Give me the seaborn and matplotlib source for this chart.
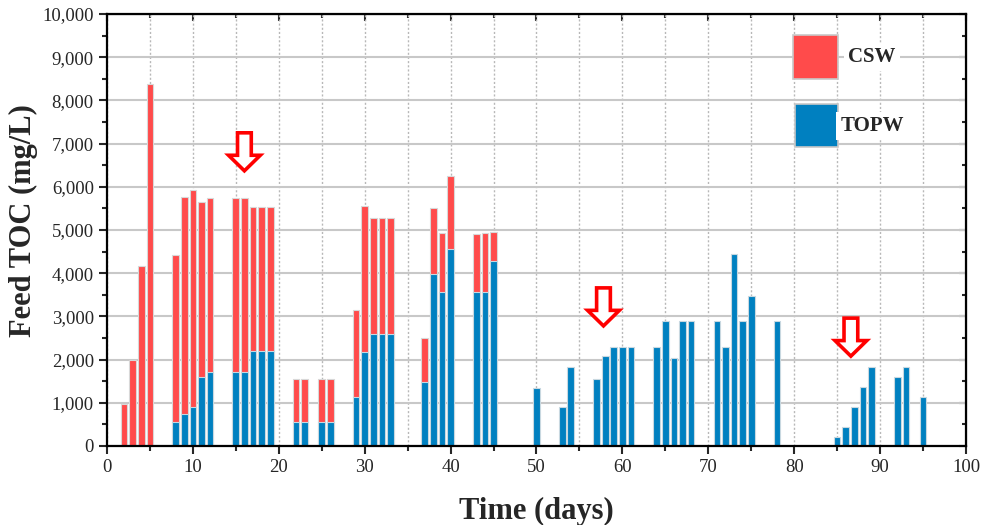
import numpy as np
import pandas as pd
import matplotlib
matplotlib.use('Agg')
import matplotlib.pyplot as plt
from matplotlib.patches import Rectangle, FancyArrow
from matplotlib.ticker import MultipleLocator, FuncFormatter
import seaborn as sns

sns.set_style("white")
plt.rcParams['font.family'] = ['Liberation Serif', 'DejaVu Serif']

# Feed TOC (mg/L) per day
days = [2, 3, 4, 5, 8, 9, 10, 11, 12, 15, 16, 17, 18, 19, 22, 23, 25, 26,
        29, 30, 31, 32, 33, 37, 38, 39, 40, 43, 44, 45, 50, 53, 54, 57, 58,
        59, 60, 61, 64, 65, 66, 67, 68, 71, 72, 73, 74, 75, 78, 85, 86, 87,
        88, 89, 92, 93, 95]
topw = [0, 0, 0, 0, 560, 730, 910, 1600, 1720, 1720, 1720, 2190, 2190, 2190,
        555, 555, 555, 555, 1130, 2180, 2590, 2590, 2590, 1485, 3990, 3575,
        4555, 3555, 3575, 4275, 1345, 910, 1835, 1555, 2075, 2300, 2300, 2300,
        2300, 2890, 2045, 2890, 2890, 2890, 2300, 4445, 2890, 3465, 2890, 200,
        435, 900, 1360, 1820, 1600, 1820, 1125]
csw = [980, 1985, 4175, 8380, 3855, 5040, 5025, 4040, 4020, 4020, 4020, 3350,
       3350, 3350, 1005, 1005, 1005, 1005, 2020, 3365, 2680, 2680, 2680, 1010,
       1515, 1345, 1705, 1345, 1345, 670, 0, 0, 0, 0, 0, 0, 0, 0, 0, 0, 0, 0,
       0, 0, 0, 0, 0, 0, 0, 0, 0, 0, 0, 0, 0, 0, 0]

# hollow arrows marking phase changes
arrow_days = [16, 57.8, 86.6]
arrow_tops = [7250, 3660, 2960]

red = '#FF4B4B'
blue = '#0080C0'

df = pd.DataFrame({'day': days, 'TOPW': topw, 'CSW': csw})
df['total'] = df['TOPW'] + df['CSW']

fig, ax = plt.subplots(figsize=(9.84, 5.25), dpi=100)
fig.subplots_adjust(left=0.1087, right=0.9817, top=0.9733, bottom=0.1505)

ax.set_axisbelow(True)
sns.barplot(data=df[df['CSW'] > 0], x='day', y='total', native_scale=True,
            color=red, saturation=1, width=0.78, edgecolor='#d8d8d8',
            linewidth=0.8, ax=ax)
sns.barplot(data=df[df['TOPW'] > 0], x='day', y='TOPW', native_scale=True,
            color=blue, saturation=1, width=0.78, edgecolor='#c8d8e0',
            linewidth=0.8, ax=ax)

for xd, yt in zip(arrow_days, arrow_tops):
    ax.add_patch(FancyArrow(xd, yt, 0, -880, width=1.6, head_width=3.7,
                            head_length=360, length_includes_head=True,
                            fc='white', ec='#FF0000', lw=2.6, zorder=5))

ax.set_xlim(0, 100)
ax.set_ylim(0, 10000)
ax.xaxis.set_major_locator(MultipleLocator(10))
ax.xaxis.set_minor_locator(MultipleLocator(5))
ax.yaxis.set_major_locator(MultipleLocator(1000))
ax.yaxis.set_minor_locator(MultipleLocator(500))
ax.yaxis.set_major_formatter(FuncFormatter(lambda v, p: f'{int(v):,}'))

ax.grid(axis='y', which='major', color='#c8c8c8', lw=1.5, ls='-')
ax.grid(axis='x', which='both', color='#b8b8b8', lw=1.0, ls=(0, (1.5, 1.5)))

ax.tick_params(which='both', direction='out', width=1.5, labelsize=13.5,
               bottom=True, left=True)
ax.tick_params(which='major', length=6)
ax.tick_params(which='minor', length=3.5)

for s in ax.spines.values():
    s.set_linewidth(1.6)
    s.set_color('black')

top = ax.secondary_xaxis('top')
top.set_xticks(np.arange(0, 101, 10))
top.set_xticks(np.arange(5, 100, 10), minor=True)
top.tick_params(which='both', direction='in', width=1.5, labeltop=False)
top.tick_params(which='major', length=5)
top.tick_params(which='minor', length=3)
right = ax.secondary_yaxis('right')
right.set_yticks(np.arange(0, 10001, 1000))
right.set_yticks(np.arange(500, 10000, 1000), minor=True)
right.tick_params(which='both', direction='in', width=1.5, labelright=False)
right.tick_params(which='major', length=5)
right.tick_params(which='minor', length=3)

ax.set_xlabel('Time (days)', fontsize=22, fontweight='bold', labelpad=15)
ax.set_ylabel('Feed TOC (mg/L)', fontsize=22, fontweight='bold')
ax.yaxis.set_label_coords(-0.08, 0.522)

# legend: big swatches with centred labels
legend_items = [('CSW', red, 0.7986, 0.8495, 0.0524, 0.1019, 0.9005),
                ('TOPW', blue, 0.8009, 0.6921, 0.0501, 0.0995, 0.7407)]
for label, col, lx, ly, lw_, lh, ty in legend_items:
    ax.add_patch(Rectangle((lx, ly), lw_, lh, transform=ax.transAxes,
                           facecolor=col, edgecolor='#c8c8c8', lw=1.2, zorder=6))
    ax.text(0.8906, ty, label, transform=ax.transAxes, ha='center', va='center',
            fontsize=15, fontweight='bold', zorder=6,
            bbox=dict(facecolor='white', edgecolor='none', pad=3))

plt.savefig('out.png', dpi=100)
plt.close()
